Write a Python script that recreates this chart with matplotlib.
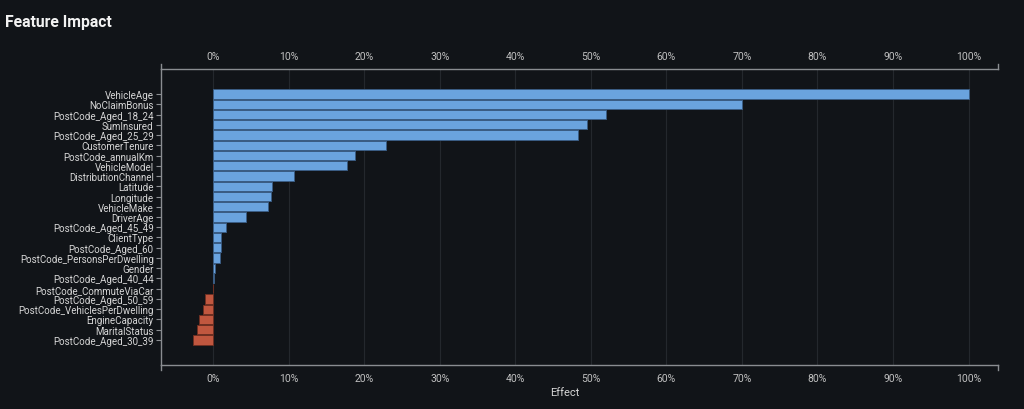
import matplotlib
matplotlib.use("Agg")
import matplotlib.pyplot as plt
import matplotlib.transforms as mtransforms
import numpy as np

features = ["VehicleAge", "NoClaimBonus", "PostCode_Aged_18_24", "SumInsured",
            "PostCode_Aged_25_29", "CustomerTenure", "PostCode_annualKm",
            "VehicleModel", "DistributionChannel", "Latitude", "Longitude",
            "VehicleMake", "DriverAge", "PostCode_Aged_45_49", "ClientType",
            "PostCode_Aged_60", "PostCode_PersonsPerDwelling", "Gender",
            "PostCode_Aged_40_44", "PostCode_CommuteViaCar", "PostCode_Aged_50_59",
            "PostCode_VehiclesPerDwelling", "EngineCapacity", "MaritalStatus",
            "PostCode_Aged_30_39"]
effect = [100.0, 70.0, 52.0, 49.5, 48.3, 22.9, 18.8, 17.7, 10.7, 7.8, 7.7, 7.3,
          4.3, 1.7, 1.1, 1.1, 0.95, 0.3, 0.13, -0.05, -1.05, -1.35, -1.85,
          -2.2, -2.7]
xticks = [0, 10, 20, 30, 40, 50, 60, 70, 80, 90, 100]
xticklabels = [f"{t}%" for t in xticks]

BG = "#111418"
BLUE = "#6aa3de"
BLUE_EDGE = "#3a5d84"
RED = "#c0573f"
RED_EDGE = "#6e2f22"
AXIS = "#8a8d91"
GRID = "#24282d"
TXT = "#d6d6d6"
TICKTXT = "#c0c0c0"

plt.rcParams['font.family'] = ['Roboto', 'DejaVu Sans']

fig = plt.figure(figsize=(10.24, 4.10), dpi=100, facecolor=BG)
ax = fig.add_axes([161/1024, 1 - 366/410, (998 - 161)/1024, (366 - 70)/410])
ax.set_facecolor(BG)

y = np.arange(len(features))
colors = [BLUE if v >= 0 else RED for v in effect]
edges = [BLUE_EDGE if v >= 0 else RED_EDGE for v in effect]
ax.barh(y, effect, height=0.92, color=colors, edgecolor=edges, linewidth=0.7, zorder=3)

ax.set_xlim(-6.9, 103.9)
ax.set_ylim(len(features) - 1 + 2.44, -2.44)

ax.set_yticks(y)
ax.set_yticklabels(features)
ax.tick_params(axis='y', colors=AXIS, labelcolor=TXT, length=3.3, width=0.8,
               pad=2, labelsize=7)

ax.set_xticks(xticks)
ax.set_xticklabels(xticklabels)
ax.tick_params(axis='x', which='both', top=True, labeltop=True, bottom=True,
               labelbottom=True, length=0, pad=6, labelcolor=TICKTXT, labelsize=7.5)
ax.grid(axis='x', color=GRID, linewidth=0.8, zorder=0)
ax.set_axisbelow(True)

for s in ['top', 'bottom', 'left']:
    ax.spines[s].set_color(AXIS)
    ax.spines[s].set_linewidth(1.0)
ax.spines['right'].set_visible(False)

# outer ticks at the ends of the top and bottom axes
trans = mtransforms.blended_transform_factory(ax.transAxes, fig.transFigure)
for xa in (0, 1):
    ax.plot([xa, xa], [1 - 70/410, 1 - 65/410], color=AXIS, lw=1.0,
            transform=trans, clip_on=False)
    ax.plot([xa, xa], [1 - 366/410, 1 - 371/410], color=AXIS, lw=1.0,
            transform=trans, clip_on=False)

fig.text(565/1024, 1 - 393/410, "Effect", color=TXT, fontsize=8, ha='center', va='center')
fig.text(5/1024, 1 - 23/410, "Feature Impact", color="#f2f2f2", fontsize=11.3,
         fontweight='bold', ha='left', va='center')

fig.savefig("out.png", dpi=100, facecolor=BG)
